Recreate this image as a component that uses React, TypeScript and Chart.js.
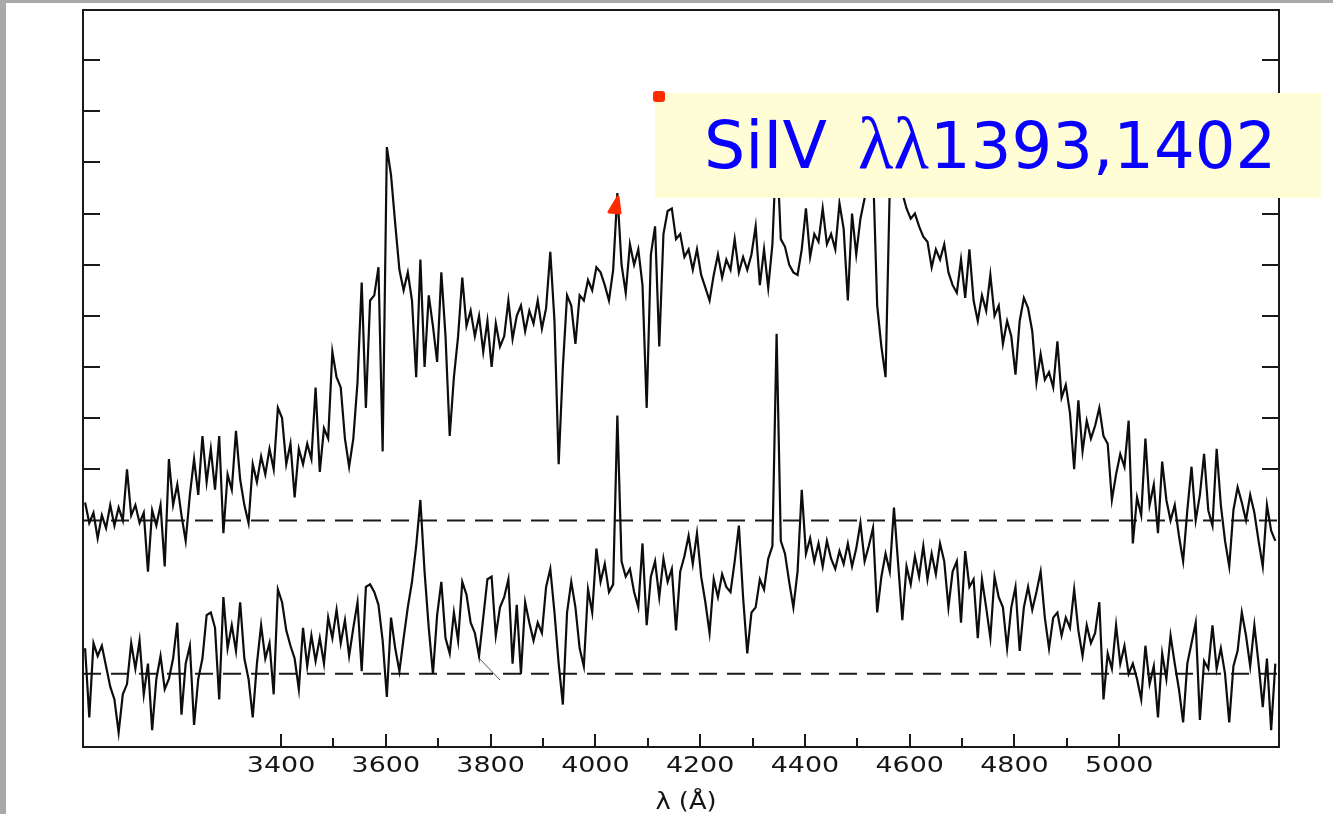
import React, { useEffect, useRef } from "react";
import { Chart, registerables } from "chart.js";

Chart.register(...registerables);

// Wavelength sampling of both spectra (Angstrom)
const WAVE_START = 3026;
const WAVE_STEP = 8;

// Upper spectrum (relative flux, offset by +3 units)
const UPPER_FLUX = [
  3.35, 2.95, 3.15, 2.65, 3.1, 2.85, 3.3, 2.9, 3.25, 3.0,
  4.0, 3.1, 3.3, 2.95, 3.15, 2.0, 3.2, 2.9, 3.3, 2.1,
  4.2, 3.3, 3.7, 3.1, 2.6, 3.5, 4.2, 3.5, 4.65, 3.75,
  4.4, 3.6, 4.65, 2.75, 3.9, 3.6, 4.75, 3.8, 3.3, 2.95,
  4.1, 3.75, 4.25, 3.9, 4.4, 4.0, 5.2, 5.0, 4.1, 4.5,
  3.45, 4.4, 4.1, 4.5, 4.2, 5.6, 3.95, 4.8, 4.6, 6.3,
  5.8, 5.6, 4.6, 4.05, 4.6, 5.7, 7.65, 5.2, 7.3, 7.4,
  7.95, 4.35, 10.3, 9.75, 8.8, 7.9, 7.5, 7.85, 7.3, 5.8,
  8.1, 6.0, 7.4, 6.8, 6.1, 7.85, 6.6, 4.65, 5.8, 6.6,
  7.75, 6.8, 7.1, 6.6, 7.0, 6.3, 6.9, 6.0, 6.85, 6.4,
  6.6, 7.3, 6.55, 7.0, 7.2, 6.7, 7.1, 6.85, 7.3, 6.75,
  7.15, 8.25, 6.9, 4.1, 6.0, 7.4, 7.2, 6.45, 7.4, 7.3,
  7.7, 7.5, 7.95, 7.85, 7.6, 7.3, 7.9, 9.4, 8.0, 7.45,
  8.4, 8.0, 8.3, 7.6, 5.2, 8.2, 8.75, 6.4, 8.6, 9.05,
  9.1, 8.5, 8.6, 8.15, 8.3, 7.9, 8.3, 7.8, 7.55, 7.3,
  7.8, 8.2, 7.75, 8.1, 7.9, 8.5, 7.85, 8.15, 7.9, 8.2,
  8.75, 7.6, 8.3, 7.55, 8.4, 10.4, 8.5, 8.35, 8.0, 7.85,
  7.8, 8.3, 9.1, 8.15, 8.6, 8.45, 9.1, 8.4, 8.6, 8.3,
  9.2, 8.7, 7.3, 9.0, 8.2, 8.9, 9.3, 9.6, 9.9, 7.2,
  6.4, 5.8, 9.5, 10.0, 9.8, 9.4, 9.1, 8.9, 9.0, 8.75,
  8.55, 8.45, 7.95, 8.3, 8.1, 8.4, 7.85, 7.6, 7.45, 8.1,
  7.35, 8.3, 7.3, 6.9, 7.4, 7.1, 7.8, 7.0, 7.2, 6.45,
  6.9, 6.6, 5.85, 6.9, 7.35, 7.15, 6.7, 5.7, 6.25, 5.75,
  5.9, 5.6, 6.5, 5.4, 5.65, 5.1, 4.0, 5.35, 4.35, 4.95,
  4.6, 4.85, 5.2, 4.65, 4.5, 3.4, 3.9, 4.3, 4.05, 4.95,
  2.55, 3.45, 3.1, 4.6, 3.3, 3.7, 2.75, 4.15, 3.4, 3.0,
  3.3, 2.7, 2.2, 3.2, 4.05, 3.0, 3.5, 4.3, 3.2, 2.9,
  4.4, 3.3, 2.6, 2.1, 3.2, 3.65, 3.35, 3.0, 3.5, 3.15,
  2.6, 2.1, 3.3, 2.8, 2.6,
];

// Lower spectrum (relative flux)
const LOWER_FLUX = [
  0.5, -0.85, 0.6, 0.35, 0.55, 0.15, -0.25, -0.5, -1.15, -0.4,
  -0.2, 0.6, 0.1, 0.65, -0.4, 0.2, -1.1, -0.1, 0.35, -0.3,
  -0.1, 0.3, 1.0, -0.8, 0.2, 0.55, -1.0, -0.1, 0.3, 1.15,
  1.2, 0.9, -0.5, 1.5, 0.5, 0.95, 0.45, 1.4, 0.3, -0.1,
  -0.85, 0.2, 0.95, 0.3, 0.6, -0.4, 1.65, 1.4, 0.85, 0.55,
  0.3, -0.3, 0.9, 0.15, 0.75, 0.25, 0.7, 0.2, 1.1, 0.7,
  1.25, 0.6, 1.05, 0.35, 0.9, 1.4, 0.05, 1.7, 1.75, 1.6,
  1.35, 0.65, -0.45, 1.1, 0.5, 0.05, 0.7, 1.3, 1.8, 2.5,
  3.4, 2.0, 0.9, 0.0, 1.15, 1.8, 0.7, 0.4, 1.2, 0.65,
  1.8, 1.55, 1.0, 0.8, 0.35, 1.1, 1.85, 1.9, 0.75, 1.3,
  1.5, 1.85, 0.2, 1.35, 0.0, 1.4, 1.0, 0.65, 1.0, 0.8,
  1.7, 2.05, 1.2, 0.2, -0.6, 1.2, 1.8, 1.3, 0.5, 0.15,
  1.65, 1.2, 2.45, 1.8, 2.15, 1.6, 1.75, 5.05, 2.2, 1.9,
  2.05, 1.6, 1.3, 2.55, 0.95, 1.9, 2.2, 1.5, 2.25, 1.8,
  2.05, 0.85, 2.0, 2.3, 2.7, 2.15, 2.75, 1.9, 1.4, 0.8,
  1.85, 1.5, 1.95, 1.7, 1.6, 2.2, 2.9, 1.5, 0.4, 1.2,
  1.3, 1.85, 1.65, 2.25, 2.5, 6.65, 2.6, 2.35, 1.8, 1.3,
  2.0, 3.6, 2.35, 2.65, 2.2, 2.55, 2.1, 2.6, 2.25, 2.05,
  2.4, 2.15, 2.55, 2.1, 2.45, 2.95, 2.2, 2.5, 2.85, 1.2,
  1.9, 2.35, 2.0, 3.25, 2.15, 1.05, 2.1, 1.75, 2.3, 1.9,
  2.5, 1.85, 2.35, 1.95, 2.55, 2.2, 1.3, 2.0, 2.2, 1.0,
  2.4, 1.7, 1.85, 0.7, 1.85, 1.3, 0.7, 1.9, 1.5, 1.3,
  0.5, 1.3, 1.7, 0.45, 1.3, 1.7, 1.25, 1.6, 2.0, 1.1,
  0.5, 1.1, 1.2, 0.75, 1.1, 0.9, 1.65, 0.85, 0.35, 0.95,
  0.6, 0.8, 1.4, -0.5, 0.4, 0.1, 0.95, 0.2, 0.55, 0.0,
  0.2, -0.1, -0.5, 0.55, -0.2, 0.15, -0.85, 0.4, -0.1, 0.75,
  0.2, -0.3, -0.95, 0.2, 0.6, 1.0, -0.9, 0.25, 0.1, 0.95,
  0.1, 0.5, 0.0, -0.95, 0.15, 0.45, 1.2, 0.75, 0.15, 0.95,
  0.2, -0.65, 0.3, -1.1, 0.2,
];

// Continuum zero levels (dashed lines) for lower and upper spectrum
const BASELINES = [0, 3];

// Stray scanner stroke near 3800 A
const STROKE_WAVE = [3776, 3818];
const STROKE_FLUX = [0.33, -0.12];

// Axes
const X_MIN = 3022;
const X_MAX = 5305;
const Y_MIN = -1.43;
const Y_MAX = 12.98;
const X_MAJOR_TICKS = [3400, 3600, 3800, 4000, 4200, 4400, 4600, 4800, 5000];
const X_MINOR_TICKS = [3500, 3700, 3900, 4100, 4300, 4500, 4700, 4900];
const Y_TICKS = [4, 5, 6, 7, 8, 9, 10, 11, 12];
const X_TITLE = "λ (Å)";
const NOTE_PARTS = ["SiIV", "λλ", "1393,1402"];

const toPoints = (flux: number[]) =>
  flux.map((v, i) => ({ x: WAVE_START + i * WAVE_STEP, y: v }));

const decorPlugin = {
  id: "decor",
  beforeDraw(chart: any) {
    const { ctx, width, height } = chart;
    ctx.save();
    ctx.fillStyle = "#a9a9a9";
    ctx.fillRect(0, 0, width, height);
    ctx.fillStyle = "#ffffff";
    ctx.fillRect(6, 3, width - 6, height - 3);
    ctx.restore();
  },
  afterDraw(chart: any) {
    const { ctx, chartArea: a } = chart;
    const xs = chart.scales.x;
    const ys = chart.scales.y;
    ctx.save();
    ctx.strokeStyle = "#1a1a1a";
    ctx.lineWidth = 2;
    ctx.strokeRect(a.left, a.top, a.right - a.left, a.bottom - a.top);

    ctx.beginPath();
    for (const v of Y_TICKS) {
      const py = Math.round(ys.getPixelForValue(v));
      ctx.moveTo(a.left, py);
      ctx.lineTo(a.left + 17, py);
      ctx.moveTo(a.right - 17, py);
      ctx.lineTo(a.right, py);
    }
    for (const v of X_MAJOR_TICKS) {
      const px = Math.round(xs.getPixelForValue(v));
      ctx.moveTo(px, a.bottom);
      ctx.lineTo(px, a.bottom - 13);
    }
    for (const v of X_MINOR_TICKS) {
      const px = Math.round(xs.getPixelForValue(v));
      ctx.moveTo(px, a.bottom);
      ctx.lineTo(px, a.bottom - 9);
    }
    ctx.stroke();

    ctx.fillStyle = "#151515";
    ctx.font = '21px "DejaVu Sans"';
    ctx.textAlign = "center";
    ctx.textBaseline = "alphabetic";
    for (const v of X_MAJOR_TICKS) {
      const px = xs.getPixelForValue(v);
      ctx.save();
      ctx.translate(px, a.bottom + 25);
      ctx.scale(1.28, 1);
      ctx.fillText(String(v), 0, 0);
      ctx.restore();
    }
    ctx.save();
    ctx.font = '23px "DejaVu Sans"';
    ctx.translate((a.left + a.right) / 2 + 5, a.bottom + 62);
    ctx.scale(1.12, 1);
    ctx.fillText(X_TITLE, 0, 0);
    ctx.restore();

    // annotation box
    ctx.fillStyle = "#fffdd5";
    ctx.fillRect(655, 93, 666, 105);
    ctx.fillStyle = "#0a00ff";
    ctx.textAlign = "left";
    ctx.font = '65px "DejaVu Sans"';
    ctx.fillText(NOTE_PARTS[0], 704, 168);
    ctx.font = '73px "Liberation Serif"';
    ctx.fillText(NOTE_PARTS[1], 858, 168);
    ctx.font = '64px "DejaVu Sans"';
    ctx.fillText(NOTE_PARTS[2], 930, 168);

    // red markers
    ctx.fillStyle = "#ff2a00";
    ctx.strokeStyle = "#ff2a00";
    ctx.lineJoin = "round";
    ctx.lineWidth = 3;
    ctx.beginPath();
    ctx.roundRect(653, 91, 12, 11, 3);
    ctx.fill();
    ctx.beginPath();
    ctx.moveTo(618, 197);
    ctx.lineTo(620, 213);
    ctx.lineTo(609, 212);
    ctx.closePath();
    ctx.fill();
    ctx.stroke();
    ctx.restore();
  },
};

export default function App() {
  const ref = useRef<HTMLCanvasElement | null>(null);
  useEffect(() => {
    document.body.style.margin = "0";
    const canvas = ref.current!;
    const line = (data: any[], width: number, color: string, dash: number[] = []) => ({
      data,
      borderColor: color,
      borderWidth: width,
      borderDash: dash,
      pointRadius: 0,
      tension: 0,
      fill: false,
    });
    const chart = new Chart(canvas, {
      type: "line",
      data: {
        datasets: [
          line(toPoints(UPPER_FLUX), 2.2, "#0d0d0d"),
          line(toPoints(LOWER_FLUX), 2.2, "#0d0d0d"),
          ...BASELINES.map((b) =>
            line([{ x: X_MIN, y: b }, { x: X_MAX, y: b }], 2, "#1a1a1a", [18, 10])
          ),
          line(
            STROKE_WAVE.map((w, i) => ({ x: w, y: STROKE_FLUX[i] })),
            1,
            "#555555"
          ),
        ],
      },
      options: {
        responsive: false,
        devicePixelRatio: 1,
        animation: false,
        layout: { padding: { left: 83, top: 10, right: 54, bottom: 67 } },
        plugins: { legend: { display: false }, tooltip: { enabled: false } },
        scales: {
          x: { type: "linear", min: X_MIN, max: X_MAX, display: false },
          y: { type: "linear", min: Y_MIN, max: Y_MAX, display: false },
        },
      },
      plugins: [decorPlugin],
    });
    return () => chart.destroy();
  }, []);
  return (
    <div style={{ position: "fixed", left: 0, top: 0, width: 1333, height: 814 }}>
      <canvas ref={ref} width={1333} height={814} style={{ display: "block" }} />
    </div>
  );
}
